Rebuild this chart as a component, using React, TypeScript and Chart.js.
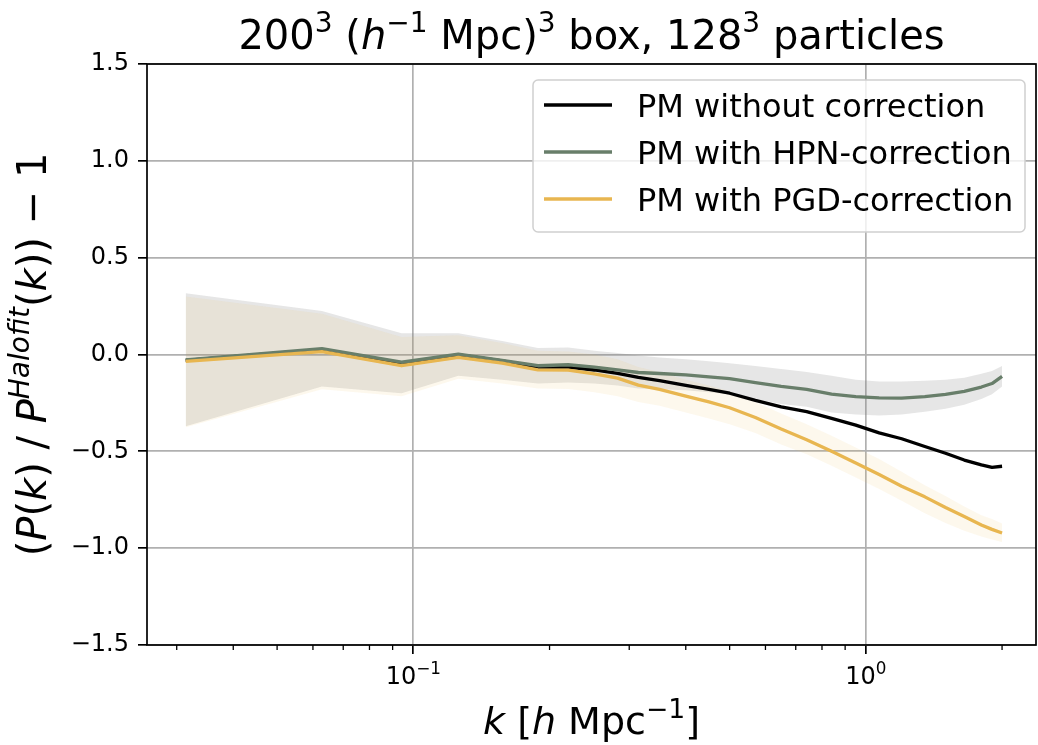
import { useEffect, useRef } from 'react';
import { Chart, registerables } from 'chart.js';

Chart.register(...registerables);

// ---- data ----
const K = [0.0314, 0.0628, 0.0942, 0.1257, 0.1571, 0.1885, 0.2199, 0.2513, 0.2827, 0.3142, 0.35, 0.4, 0.45, 0.5, 0.57, 0.65, 0.74, 0.84, 0.95, 1.07, 1.2, 1.35, 1.5, 1.65, 1.8, 1.9, 2.0];

const PM_NOCORR = [-0.030, 0.025, -0.045, -0.002, -0.033, -0.065, -0.065, -0.080, -0.098, -0.118, -0.135, -0.160, -0.180, -0.200, -0.237, -0.270, -0.295, -0.330, -0.365, -0.405, -0.435, -0.475, -0.510, -0.545, -0.570, -0.583, -0.577];
const PM_HPN = [-0.028, 0.030, -0.040, 0.002, -0.030, -0.058, -0.053, -0.065, -0.079, -0.093, -0.098, -0.105, -0.115, -0.125, -0.145, -0.165, -0.180, -0.205, -0.218, -0.224, -0.225, -0.218, -0.206, -0.190, -0.168, -0.150, -0.113];
const PM_PGD = [-0.036, 0.015, -0.058, -0.015, -0.045, -0.079, -0.081, -0.100, -0.122, -0.158, -0.180, -0.215, -0.245, -0.275, -0.325, -0.385, -0.440, -0.500, -0.560, -0.620, -0.680, -0.735, -0.790, -0.837, -0.880, -0.903, -0.922];

const HPN_HI = [0.316, 0.225, 0.110, 0.110, 0.070, 0.033, 0.036, 0.020, 0.008, -0.005, -0.015, -0.025, -0.035, -0.045, -0.060, -0.075, -0.090, -0.110, -0.130, -0.140, -0.140, -0.135, -0.130, -0.120, -0.100, -0.085, -0.060];
const HPN_LO = [-0.370, -0.165, -0.200, -0.110, -0.130, -0.150, -0.145, -0.150, -0.160, -0.175, -0.180, -0.185, -0.195, -0.205, -0.230, -0.255, -0.270, -0.300, -0.310, -0.315, -0.310, -0.295, -0.280, -0.260, -0.230, -0.205, -0.165];
const PGD_HI = [0.300, 0.210, 0.090, 0.100, 0.060, 0.020, 0.015, 0.000, -0.025, -0.065, -0.090, -0.130, -0.160, -0.190, -0.245, -0.305, -0.360, -0.420, -0.480, -0.540, -0.605, -0.675, -0.730, -0.785, -0.830, -0.850, -0.872];
const PGD_LO = [-0.375, -0.180, -0.215, -0.125, -0.150, -0.175, -0.178, -0.195, -0.215, -0.245, -0.265, -0.300, -0.330, -0.360, -0.405, -0.465, -0.515, -0.575, -0.635, -0.695, -0.755, -0.820, -0.870, -0.910, -0.940, -0.955, -0.968];

const SERIES_LABELS = ['PM without correction', 'PM with HPN-correction', 'PM with PGD-correction'];
const SERIES_COLORS = ['#000000', '#687e6a', '#e8b650'];

const Y_TICKS = [-1.5, -1.0, -0.5, 0.0, 0.5, 1.0, 1.5];
const X_MAJOR = [0.1, 1];
const X_MAJOR_EXP = ['−1', '0'];
const X_MINOR = [0.03, 0.04, 0.05, 0.06, 0.07, 0.08, 0.09, 0.2, 0.3, 0.4, 0.5, 0.6, 0.7, 0.8, 0.9, 2];
const X_MIN = 0.02579;
const X_MAX = 2.377;

const FONT = '"DejaVu Sans", sans-serif';

type Seg = { t: string; it?: boolean; sup?: boolean };

function segFont(s: Seg, size: number) {
  return `${s.it ? 'italic ' : ''}${s.sup ? size * 0.7 : size}px ${FONT}`;
}

function drawRich(ctx: CanvasRenderingContext2D, segs: Seg[], x: number, y: number, size: number, align: 'center' | 'left') {
  ctx.save();
  ctx.textAlign = 'left';
  ctx.textBaseline = 'alphabetic';
  const widths = segs.map((s) => {
    ctx.font = segFont(s, size);
    return ctx.measureText(s.t).width;
  });
  const total = widths.reduce((a, b) => a + b, 0);
  let cx = align === 'center' ? x - total / 2 : x;
  segs.forEach((s, i) => {
    ctx.font = segFont(s, size);
    ctx.fillText(s.t, cx, y - (s.sup ? size * 0.42 : 0));
    cx += widths[i];
  });
  ctx.restore();
}

const pts = (arr: number[]) => K.map((k, i) => ({ x: k, y: arr[i] }));

const decorPlugin = {
  id: 'decor',
  afterDraw(chart: any) {
    const ctx: CanvasRenderingContext2D = chart.ctx;
    const ca = chart.chartArea;
    const xs = chart.scales.x;
    ctx.save();
    ctx.fillStyle = '#000';
    ctx.strokeStyle = '#000';

    // frame
    ctx.lineWidth = 1.7;
    ctx.strokeRect(ca.left, ca.top, ca.right - ca.left, ca.bottom - ca.top);

    // minor x ticks
    ctx.lineWidth = 1.3;
    X_MINOR.forEach((v) => {
      const px = xs.getPixelForValue(v);
      ctx.beginPath();
      ctx.moveTo(px, ca.bottom);
      ctx.lineTo(px, ca.bottom + 5);
      ctx.stroke();
    });

    // x tick labels
    X_MAJOR.forEach((v, i) => {
      const px = xs.getPixelForValue(v);
      drawRich(ctx, [{ t: '10' }, { t: X_MAJOR_EXP[i], sup: true }], px, 684, 24, 'center');
    });

    // title
    drawRich(
      ctx,
      [
        { t: '200' }, { t: '3', sup: true }, { t: ' (' }, { t: 'h', it: true }, { t: '−1', sup: true },
        { t: ' Mpc)' }, { t: '3', sup: true }, { t: ' box, 128' }, { t: '3', sup: true }, { t: ' particles' },
      ],
      (ca.left + ca.right) / 2, 49, 40, 'center'
    );

    // x label
    drawRich(
      ctx,
      [{ t: 'k', it: true }, { t: ' [' }, { t: 'h', it: true }, { t: ' Mpc' }, { t: '−1', sup: true }, { t: ']' }],
      (ca.left + ca.right) / 2, 734, 38, 'center'
    );

    // y label
    ctx.save();
    ctx.translate(46, (ca.top + ca.bottom) / 2);
    ctx.rotate(-Math.PI / 2);
    drawRich(
      ctx,
      [
        { t: '(' }, { t: 'P', it: true }, { t: '(' }, { t: 'k', it: true }, { t: ') / ' }, { t: 'P', it: true },
        { t: 'Halofit', it: true, sup: true }, { t: '(' }, { t: 'k', it: true }, { t: ')) − 1' },
      ],
      0, 0, 40, 'center'
    );
    ctx.restore();

    // legend
    const lx = 533, ly = 80, lw = 492, lh = 152, r = 5;
    ctx.beginPath();
    ctx.moveTo(lx + r, ly);
    ctx.arcTo(lx + lw, ly, lx + lw, ly + lh, r);
    ctx.arcTo(lx + lw, ly + lh, lx, ly + lh, r);
    ctx.arcTo(lx, ly + lh, lx, ly, r);
    ctx.arcTo(lx, ly, lx + lw, ly, r);
    ctx.closePath();
    ctx.fillStyle = 'rgba(255,255,255,0.8)';
    ctx.fill();
    ctx.strokeStyle = '#d0d0d0';
    ctx.lineWidth = 1.5;
    ctx.stroke();

    const rowY = [105, 152, 199];
    SERIES_LABELS.forEach((lab, i) => {
      ctx.strokeStyle = SERIES_COLORS[i];
      ctx.lineWidth = 3.3;
      ctx.beginPath();
      ctx.moveTo(544, rowY[i]);
      ctx.lineTo(612, rowY[i]);
      ctx.stroke();
      ctx.fillStyle = '#000';
      ctx.font = `32px ${FONT}`;
      ctx.textAlign = 'left';
      ctx.textBaseline = 'alphabetic';
      ctx.fillText(lab, 637, rowY[i] + 12);
    });

    ctx.restore();
  },
};

export default function App() {
  const ref = useRef<HTMLCanvasElement>(null);

  useEffect(() => {
    if (!ref.current) return;
    const bandBase = { borderWidth: 0, pointRadius: 0, showLine: false };
    const chart = new Chart(ref.current, {
      type: 'line',
      data: {
        datasets: [
          { ...bandBase, label: 'hpn_hi', data: pts(HPN_HI), fill: false, order: 6, backgroundColor: 'rgba(0,0,0,0)' },
          { ...bandBase, label: 'hpn_lo', data: pts(HPN_LO), fill: '-1', order: 5, backgroundColor: 'rgba(128,128,128,0.2)' },
          { ...bandBase, label: 'pgd_hi', data: pts(PGD_HI), fill: false, order: 4, backgroundColor: 'rgba(0,0,0,0)' },
          { ...bandBase, label: 'pgd_lo', data: pts(PGD_LO), fill: '-1', order: 3, backgroundColor: 'rgba(232,182,80,0.1)' },
          { label: SERIES_LABELS[0], data: pts(PM_NOCORR), borderColor: SERIES_COLORS[0], borderWidth: 3.3, pointRadius: 0, fill: false, order: 2, tension: 0 },
          { label: SERIES_LABELS[1], data: pts(PM_HPN), borderColor: SERIES_COLORS[1], borderWidth: 3.3, pointRadius: 0, fill: false, order: 1, tension: 0 },
          { label: SERIES_LABELS[2], data: pts(PM_PGD), borderColor: SERIES_COLORS[2], borderWidth: 3.3, pointRadius: 0, fill: false, order: 0, tension: 0 },
        ] as any,
      },
      options: {
        responsive: false,
        animation: false,
        devicePixelRatio: 1,
        layout: { padding: { top: 64, right: 2, left: 0, bottom: 0 } },
        plugins: {
          legend: { display: false },
          title: { display: false },
          tooltip: { enabled: false },
          filler: { propagate: false },
        },
        elements: { line: { borderJoinStyle: 'round', borderCapStyle: 'butt' } },
        scales: {
          x: {
            type: 'logarithmic',
            min: X_MIN,
            max: X_MAX,
            afterBuildTicks: (s: any) => {
              s.ticks = X_MAJOR.map((v) => ({ value: v, major: true }));
            },
            afterFit: (s: any) => {
              s.height = 100;
            },
            ticks: { display: false },
            grid: { color: '#b0b0b0', lineWidth: 1.7, tickColor: '#000', tickLength: 9, tickWidth: 1.7 },
            border: { display: false },
          },
          y: {
            type: 'linear',
            min: -1.5,
            max: 1.5,
            afterBuildTicks: (s: any) => {
              s.ticks = Y_TICKS.map((v) => ({ value: v }));
            },
            afterFit: (s: any) => {
              s.width = 147;
            },
            ticks: {
              font: { family: FONT, size: 24 },
              color: '#000',
              padding: 9,
              callback: (v: any) => Number(v).toFixed(1).replace('-', '−'),
            },
            grid: { color: '#b0b0b0', lineWidth: 1.7, tickColor: '#000', tickLength: 9, tickWidth: 1.7 },
            border: { display: false },
          },
        },
      } as any,
      plugins: [decorPlugin],
    });
    return () => chart.destroy();
  }, []);

  return (
    <div style={{ position: 'absolute', left: 0, top: 0, width: 1038, height: 745, background: '#fff' }}>
      <canvas ref={ref} width={1038} height={745} style={{ display: 'block', width: 1038, height: 745 }} />
    </div>
  );
}
